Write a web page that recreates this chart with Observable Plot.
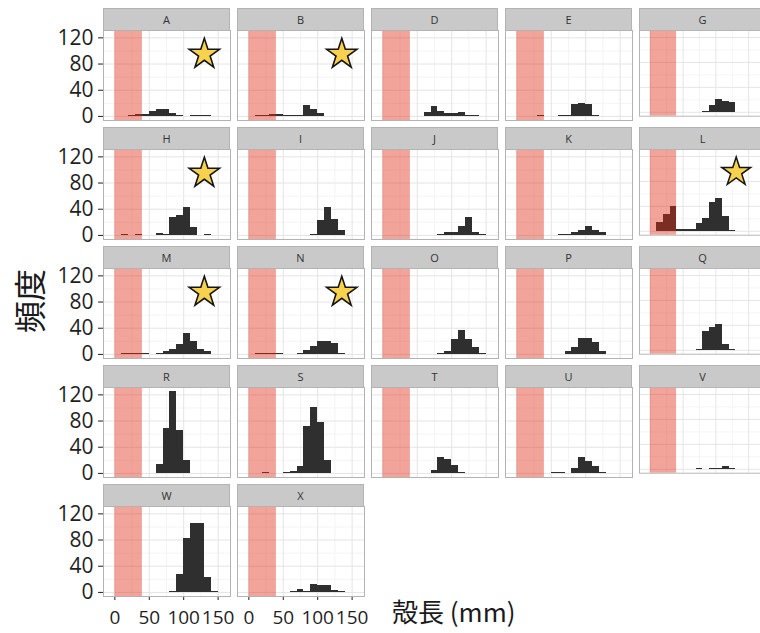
<!DOCTYPE html>
<html>
<head>
<meta charset="utf-8">
<script src="https://cdn.jsdelivr.net/npm/d3@7"></script>
<script src="https://cdn.jsdelivr.net/npm/@observablehq/plot@0.6"></script>
<style>
  html, body { margin: 0; padding: 0; background: #ffffff; }
  #chart { position: relative; width: 760px; height: 633px; overflow: hidden; background: #ffffff;
           font-family: "Open Sans", "Noto Sans CJK JP", sans-serif; color: #1a1a1a; }
  .strip { position: absolute; width: 127px; height: 22px; box-sizing: border-box; background: #c9c9c9;
           border: 1px solid #b3b3b3; border-bottom: none; font-size: 11px; line-height: 21px;
           text-align: center; color: #333333; }
  .plotbox { position: absolute; }
  .plotbox svg g[aria-label^="x-axis"] text { font-size: 19px; }
  .ytitle { position: absolute; left: 28px; top: 301px; transform: translate(-50%, -50%) rotate(-90deg);
            font-size: 32px; white-space: nowrap; font-family: "Noto Sans CJK JP", sans-serif; color: #1a1a1a; }
  .xtitle { position: absolute; left: 392px; top: 596px; font-size: 26px; line-height: 30px; white-space: nowrap;
            font-family: "Noto Sans CJK JP", sans-serif; color: #1a1a1a; }
</style>
</head>
<body>
<div id="chart"></div>
<script>
// ---- data ----
const panels = ["A","B","D","E","G","H","I","J","K","L","M","N","O","P","Q","R","S","T","U","V","W","X"];
// histogram bins of 10 mm: starts at 0,10,...,150
const binStarts = [0,10,20,30,40,50,60,70,80,90,100,110,120,130,140,150];
const binWidth = 10;
const cntA = [0,0,1,3,3,7,10,10,5,2,0,2,1,1,0,0];
const cntB = [0,1,1,3,3,1,1,1,16,10,5,0,0,0,0,0];
const cntD = [0,0,0,0,0,0,6,15,7,4,4,6,2,1,0,0];
const cntE = [0,0,0,1,0,0,2,2,18,19,18,2,0,0,0,0];
const cntG = [0,0,0,0,0,0,0,0,2,11,20,17,15,0,0,0];
const cntH = [0,1,0,1,0,0,3,1,28,30,42,12,0,1,0,0];
const cntI = [0,0,0,0,0,0,0,0,0,2,23,42,25,7,0,0];
const cntJ = [0,0,0,0,0,0,0,0,1,4,5,13,27,4,1,0];
const cntK = [0,0,0,0,0,0,1,1,5,7,14,8,4,0,0,0];
const cntL = [0,14,27,40,3,3,3,13,21,46,53,23,2,0,0,0];
const cntM = [0,1,2,1,1,0,1,4,7,15,32,20,8,4,0,0];
const cntN = [0,1,2,1,1,0,0,1,6,12,20,20,16,2,0,0];
const cntO = [0,0,0,0,0,0,0,0,1,5,23,37,23,10,2,0];
const cntP = [0,0,0,0,0,0,0,5,10,24,24,18,4,0,0,0];
const cntQ = [0,0,0,0,0,0,0,2,31,37,41,10,2,0,0,0];
const cntR = [0,0,0,0,0,0,13,68,125,65,19,0,0,0,0,0];
const cntS = [0,0,1,0,0,1,3,10,72,100,78,20,0,0,0,0];
const cntT = [0,0,0,0,0,0,0,4,24,22,12,2,0,0,0,0];
const cntU = [0,0,0,0,0,1,1,0,8,24,18,10,1,0,0,0];
const cntV = [0,0,0,0,0,0,0,2,0,2,1,5,2,0,0,0];
const cntW = [0,0,0,0,0,0,0,0,2,27,82,105,105,23,2,0];
const cntX = [0,0,0,0,0,0,1,4,2,12,11,10,3,2,0,0];
const counts = [cntA,cntB,cntD,cntE,cntG,cntH,cntI,cntJ,cntK,cntL,cntM,cntN,cntO,cntP,cntQ,cntR,cntS,cntT,cntU,cntV,cntW,cntX];

// star markers
const starPanels = ["A","B","H","L","M","N"];
const starX = [130,135,130,131,130,135];
const starY = [95,95,95,95,95,95];

// shaded zone (mm)
const zoneStart = [0];
const zoneEnd = [40];

// axes
const xTicks = [0,50,100,150];
const xMinor = [25,75,125];
const yTicks = [0,40,80,120];
const yMinor = [20,60,100];
const xDomain = [-16.5, 168];
const yDomain = [-6.25, 131.25];

const yTitle = "頻度";
const xTitle = "殻長 (mm)";

// ---- layout ----
const nCols = 5;
const colLeft = [103, 237, 371, 505, 639];
const rowTop = [8, 127, 246, 365, 484];
const panelW = 127, stripH = 22, plotH = 90;

const chart = document.getElementById("chart");

panels.forEach((p, i) => {
  const col = i % nCols, row = Math.floor(i / nCols);
  const left = colLeft[col], top = rowTop[row];
  const isLastRow = (row === 4);
  const isFirstCol = (col === 0);

  const strip = document.createElement("div");
  strip.className = "strip";
  strip.style.left = left + "px";
  strip.style.top = top + "px";
  strip.textContent = p;
  chart.appendChild(strip);

  const bars = binStarts.map((b, k) => ({x1: b, x2: b + binWidth, y: counts[i][k]})).filter(d => d.y > 0);
  const zone = zoneStart.map((s, k) => ({x1: s, x2: zoneEnd[k]}));
  const stars = starPanels.map((s, k) => ({panel: s, x: starX[k], y: starY[k]})).filter(d => d.panel === p);

  const ml = isFirstCol ? 103 : 0;
  const mb = isLastRow ? 36 : 0;

  const svg = Plot.plot({
    width: panelW + ml,
    height: plotH + mb,
    marginLeft: ml, marginRight: 0, marginTop: 0, marginBottom: mb,
    style: {fontSize: "21px", fontFamily: "'Open Sans', sans-serif", color: "#1f1f1f", background: "transparent", overflow: "visible"},
    x: {domain: xDomain, axis: isLastRow ? "bottom" : null, ticks: xTicks, tickSize: 4, tickPadding: 10, label: null, tickFormat: d3.format("d")},
    y: {domain: yDomain, axis: isFirstCol ? "left" : null, ticks: yTicks, tickSize: 5, tickPadding: 5, label: null, tickFormat: d3.format("d")},
    marks: [
      Plot.ruleX(xMinor, {stroke: "#f4f4f4", strokeWidth: 1}),
      Plot.ruleY(yMinor, {stroke: "#f4f4f4", strokeWidth: 1}),
      Plot.ruleX(xTicks, {stroke: "#e4e4e4", strokeWidth: 1}),
      Plot.ruleY(yTicks, {stroke: "#e4e4e4", strokeWidth: 1}),
      Plot.rect(bars, {x1: "x1", x2: "x2", y1: 0, y2: "y", fill: "#2f2f2f", inset: 0, shapeRendering: "crispEdges"}),
      Plot.rect(zone, {x1: "x1", x2: "x2", fill: "#e42c14", fillOpacity: 0.43}),
      Plot.dot(stars, {x: "x", y: "y", symbol: "star", r: 9.5, fill: "#f8d24c", stroke: "#151515", strokeWidth: 1.6}),
      Plot.frame({stroke: "#b3b3b3"})
    ]
  });
  const box = document.createElement("div");
  box.className = "plotbox";
  box.style.left = (left - ml) + "px";
  box.style.top = (top + stripH) + "px";
  box.appendChild(svg);
  chart.appendChild(box);
});

const yt = document.createElement("div");
yt.className = "ytitle";
yt.textContent = yTitle;
chart.appendChild(yt);

const xt = document.createElement("div");
xt.className = "xtitle";
xt.textContent = xTitle;
chart.appendChild(xt);
</script>
</body>
</html>
